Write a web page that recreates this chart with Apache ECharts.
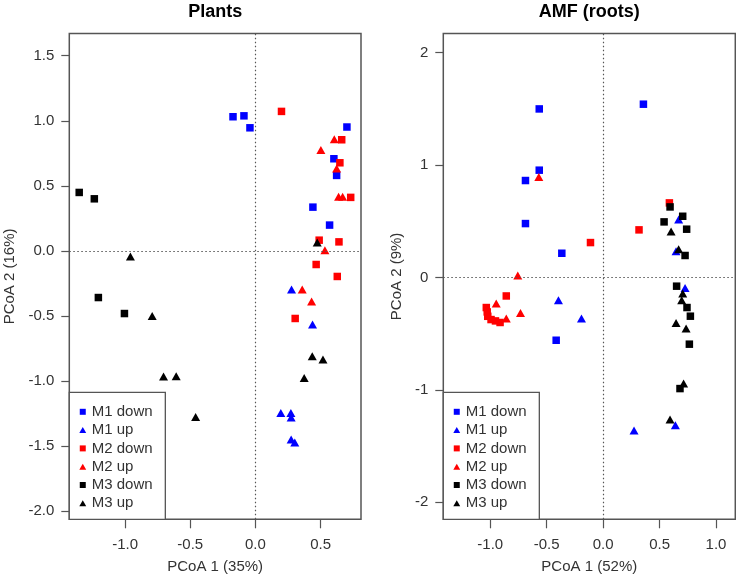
<!DOCTYPE html>
<html>
<head>
<meta charset="utf-8">
<script src="https://cdn.jsdelivr.net/npm/echarts@6/dist/echarts.min.js"></script>
<style>html,body{margin:0;padding:0;background:#fff;}#c{width:736px;height:575px;}</style>
</head>
<body>
<div id="c"></div>
<script>
// ---------- DATA ----------
const seriesNames = ['M1 down', 'M1 up', 'M2 down', 'M2 up', 'M3 down', 'M3 up'];

// Panel 1: Plants  [PCoA1, PCoA2]
const plants_M1_down = [[-0.172,1.031],[-0.088,1.038],[-0.042,0.946],[0.702,0.952],[0.602,0.708],[0.623,0.580],[0.441,0.336],[0.569,0.198]];
const plants_M1_up   = [[0.277,-0.297],[0.438,-0.567],[0.195,-1.246],[0.272,-1.246],[0.274,-1.282],[0.274,-1.451],[0.302,-1.474]];
const plants_M2_down = [[0.200,1.072],[0.662,0.854],[0.648,0.677],[0.731,0.411],[0.489,0.082],[0.641,0.069],[0.466,-0.105],[0.628,-0.197],[0.305,-0.520]];
const plants_M2_up   = [[0.502,0.775],[0.605,0.857],[0.623,0.634],[0.638,0.415],[0.669,0.415],[0.533,0.005],[0.359,-0.297],[0.431,-0.389]];
const plants_M3_down = [[-1.352,0.449],[-1.236,0.400],[-1.205,-0.359],[-1.005,-0.482]];
const plants_M3_up   = [[0.474,0.065],[-0.959,-0.043],[-0.792,-0.500],[-0.705,-0.966],[-0.608,-0.964],[-0.459,-1.277],[0.436,-0.810],[0.518,-0.836],[0.374,-0.977]];

// Panel 2: AMF (roots)
const amf_M1_down = [[-0.566,1.500],[0.357,1.542],[-0.566,0.955],[-0.688,0.863],[-0.688,0.480],[-0.366,0.216],[-0.416,-0.558]];
const amf_M1_up   = [[0.669,0.516],[0.646,0.234],[0.726,-0.093],[-0.396,-0.202],[-0.192,-0.365],[0.640,-1.314],[0.274,-1.361]];
const amf_M2_down = [[-0.112,0.311],[0.318,0.424],[0.587,0.664],[-0.858,-0.164],[-1.035,-0.267],[-1.027,-0.306],[-1.022,-0.345],[-0.993,-0.374],[-0.954,-0.386],[-0.913,-0.400]];
const amf_M2_up   = [[-0.570,0.895],[-0.756,0.018],[-0.947,-0.231],[-0.732,-0.315],[-0.858,-0.365]];
const amf_M3_down = [[0.593,0.628],[0.705,0.545],[0.540,0.495],[0.740,0.430],[0.726,0.196],[0.651,-0.077],[0.743,-0.267],[0.773,-0.344],[0.764,-0.593],[0.681,-0.988]];
const amf_M3_up   = [[0.602,0.409],[0.669,0.252],[0.705,-0.142],[0.696,-0.202],[0.646,-0.404],[0.735,-0.454],[0.713,-0.943],[0.593,-1.263]];

// Tick values / labels
const plantsXTicks = [-1.0, -0.5, 0.0, 0.5];
const plantsXLabels = ['-1.0', '-0.5', '0.0', '0.5'];
const plantsYTicks = [-2.0, -1.5, -1.0, -0.5, 0.0, 0.5, 1.0, 1.5];
const plantsYLabels = ['-2.0', '-1.5', '-1.0', '-0.5', '0.0', '0.5', '1.0', '1.5'];
const amfXTicks = [-1.0, -0.5, 0.0, 0.5, 1.0];
const amfXLabels = ['-1.0', '-0.5', '0.0', '0.5', '1.0'];
const amfYTicks = [-2, -1, 0, 1, 2];
const amfYLabels = ['-2', '-1', '0', '1', '2'];

const panelTitles = ['Plants', 'AMF (roots)'];
const xTitles = ['PCoA 1 (35%)', 'PCoA 1 (52%)'];
const yTitles = ['PCoA 2 (16%)', 'PCoA 2 (9%)'];

// ---------- STYLE ----------
const FONT = '"Liberation Sans", Arial, Helvetica, sans-serif';
const colors = ['#0000ff', '#0000ff', '#ff0000', '#ff0000', '#000000', '#000000'];
const shapes = ['rect', 'triangle', 'rect', 'triangle', 'rect', 'triangle'];
const sizes = [7.5, [9, 8], 7.5, [9, 8], 7.5, [9, 8]];
const legendIcons = ['path://M0,0H10V10H0Z', 'path://M5,0L10,8.66L0,8.66Z'];
const boxColor = '#555';
const textColor = '#333';

const panels = [
  [plants_M1_down, plants_M1_up, plants_M2_down, plants_M2_up, plants_M3_down, plants_M3_up],
  [amf_M1_down, amf_M1_up, amf_M2_down, amf_M2_up, amf_M3_down, amf_M3_up]
];

const grids = [
  { left: 69.3, top: 33.5, width: 291.7, height: 485.8, show: true, borderColor: boxColor, borderWidth: 1.5, backgroundColor: 'transparent', containLabel: false, outerBoundsMode: 'none' },
  { left: 443.3, top: 33.5, width: 292, height: 485.8, show: true, borderColor: boxColor, borderWidth: 1.5, backgroundColor: 'transparent', containLabel: false, outerBoundsMode: 'none' }
];
const xRanges = [[-1.428, 0.81], [-1.416, 1.171]];
const yRanges = [[-2.064, 1.671], [-2.151, 2.171]];
const xTickSets = [[plantsXTicks, plantsXLabels], [amfXTicks, amfXLabels]];
const yTickSets = [[plantsYTicks, plantsYLabels], [amfYTicks, amfYLabels]];
const yNameGaps = [52, 39];

function lookup(set) {
  return function (v) {
    for (let i = 0; i < set[0].length; i++) if (Math.abs(set[0][i] - v) < 1e-9) return set[1][i];
    return '';
  };
}

const xAxes = [], yAxes = [];
for (let p = 0; p < 2; p++) {
  xAxes.push({
    type: 'value', gridIndex: p, min: xRanges[p][0], max: xRanges[p][1],
    name: xTitles[p], nameLocation: 'middle', nameGap: 40,
    nameTextStyle: { fontFamily: FONT, fontSize: 15, color: textColor },
    axisLine: { show: false, onZero: false },
    axisTick: { show: true, length: 9, customValues: xTickSets[p][0], lineStyle: { color: boxColor, width: 1.2 } },
    axisLabel: { show: true, customValues: xTickSets[p][0], formatter: lookup(xTickSets[p]), margin: 18, fontFamily: FONT, fontSize: 15, color: textColor },
    splitLine: { show: false }
  });
  yAxes.push({
    type: 'value', gridIndex: p, min: yRanges[p][0], max: yRanges[p][1],
    name: yTitles[p], nameLocation: 'middle', nameGap: yNameGaps[p], nameRotate: 90,
    nameTextStyle: { fontFamily: FONT, fontSize: 15, color: textColor },
    axisLine: { show: false, onZero: false },
    axisTick: { show: true, length: 8, customValues: yTickSets[p][0], lineStyle: { color: boxColor, width: 1.2 } },
    axisLabel: { show: true, customValues: yTickSets[p][0], formatter: lookup(yTickSets[p]), margin: 15, fontFamily: FONT, fontSize: 15, color: textColor },
    splitLine: { show: false }
  });
}

const series = [];
for (let p = 0; p < 2; p++) {
  for (let s = 0; s < 6; s++) {
    const ser = {
      name: seriesNames[s], type: 'scatter', xAxisIndex: p, yAxisIndex: p,
      data: panels[p][s], symbol: shapes[s], symbolSize: sizes[s],
      itemStyle: { color: colors[s], opacity: 1 },
      emphasis: { disabled: true }, animation: false, z: 3
    };
    if (s === 0) {
      ser.markLine = {
        silent: true, symbol: 'none', animation: false,
        label: { show: false },
        lineStyle: { type: [1.5, 2.5], color: '#555', width: 1.2 },
        emphasis: { disabled: true },
        data: [{ xAxis: 0 }, { yAxis: 0 }]
      };
    }
    series.push(ser);
  }
}

const legendData = seriesNames.map((n, i) => ({ name: n, icon: legendIcons[i % 2] }));
const legends = grids.map(g => ({
  orient: 'vertical', left: g.left, top: 392.3,
  padding: [12, 12.7, 8.6, 10], itemGap: 3.3, itemWidth: 8, itemHeight: 6,
  borderColor: boxColor, borderWidth: 1.3, backgroundColor: '#fff',
  selectedMode: false, z: 5,
  textStyle: { fontFamily: FONT, fontSize: 15, color: textColor },
  data: legendData
}));

const titleGraphics = panelTitles.map((t, p) => ({
  type: 'text', x: grids[p].left + grids[p].width / 2, y: 12,
  style: { text: t, textAlign: 'center', textVerticalAlign: 'middle', font: 'bold 18px ' + FONT, fill: '#000' }
}));

const chart = echarts.init(document.getElementById('c'), null, { renderer: 'canvas' });
chart.setOption({
  backgroundColor: '#fff',
  animation: false,
  grid: grids,
  xAxis: xAxes,
  yAxis: yAxes,
  legend: legends,
  graphic: titleGraphics,
  series: series
});
</script>
</body>
</html>
